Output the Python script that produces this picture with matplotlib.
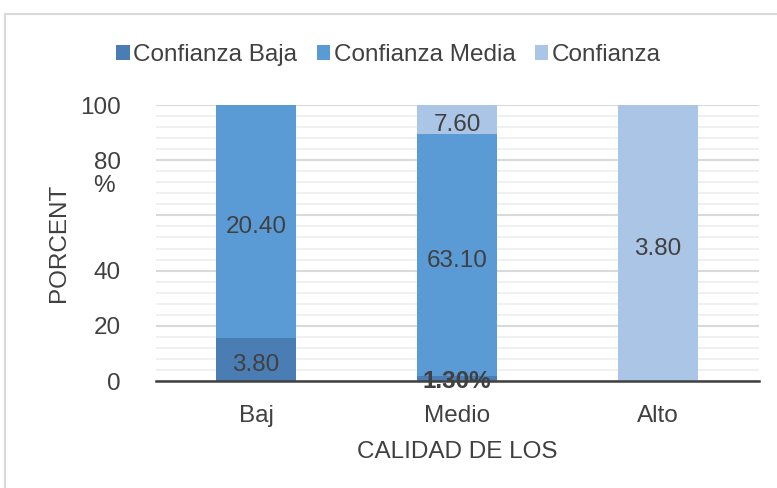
import matplotlib.pyplot as plt
from matplotlib.patches import Rectangle
from matplotlib.ticker import MultipleLocator

plt.rcParams['font.family'] = ['Liberation Sans', 'DejaVu Sans']

categories = ['Baj', 'Medio', 'Alto']
baja = [3.80, 1.30, 0.0]
media = [20.40, 63.10, 0.0]
confianza = [0.0, 7.60, 3.80]
baja_labels = ['3.80', '1.30%', '']
media_labels = ['20.40', '63.10', '']
confianza_labels = ['', '7.60', '3.80']

totals = [a + b + c for a, b, c in zip(baja, media, confianza)]
baja_pct = [v / t * 100 for v, t in zip(baja, totals)]
media_pct = [v / t * 100 for v, t in zip(media, totals)]
conf_pct = [v / t * 100 for v, t in zip(confianza, totals)]

text_color = '#404040'
fs = 17.5

fig = plt.figure(figsize=(7.77, 4.88), dpi=100)
fig.patches.append(Rectangle((5 / 777, -0.1), 1.2, 1.1 - 14 / 488,
                             transform=fig.transFigure, fill=False,
                             edgecolor='#d9d9d9', linewidth=1.5))
ax = fig.add_axes([155.5 / 777, 1 - 381 / 488, 603 / 777, 276 / 488])

x = range(len(categories))
w = 0.4
b1 = ax.bar(x, baja_pct, w, color='#4a7db3', label='Confianza Baja', zorder=3)
b2 = ax.bar(x, media_pct, w, bottom=baja_pct, color='#5b9bd5',
            label='Confianza Media', zorder=3)
bottom3 = [a + b for a, b in zip(baja_pct, media_pct)]
b3 = ax.bar(x, conf_pct, w, bottom=bottom3, color='#abc5e6',
            label='Confianza', zorder=3)

labels = []
labels += ax.bar_label(b1, labels=baja_labels, label_type='center', fontsize=fs,
                       color=text_color)
labels += ax.bar_label(b2, labels=media_labels, label_type='center', fontsize=fs,
                       color=text_color)
labels += ax.bar_label(b3, labels=confianza_labels, label_type='center', fontsize=fs,
                       color=text_color)
for t in labels:
    t.xyann = (0, -4)
    if t.get_text() == '1.30%':
        t.set_fontweight('bold')
        t.xyann = (0, -2)

ax.set_xlim(-0.5, 2.5)
ax.set_ylim(0, 100)
ax.yaxis.set_minor_locator(MultipleLocator(4))
ax.set_yticks([0, 20, 40, 60, 80, 100])
ax.set_yticklabels(['0', '20', '40', '', '80', '100'])
ax.annotate('%', xy=(0, 80), xycoords=ax.get_yaxis_transform(),
            xytext=(-52, -15), textcoords='offset pixels', ha='center', va='top',
            fontsize=fs, color=text_color)
ax.grid(axis='y', which='major', color='#d9d9d9', linewidth=1.5, zorder=0)
ax.grid(axis='y', which='minor', color='#eeeeee', linewidth=1.2, zorder=0)

ax.set_xticks(list(x))
ax.set_xticklabels(categories)
ax.tick_params(axis='both', which='both', length=0, labelsize=fs, labelcolor=text_color)
ax.tick_params(axis='y', pad=25)
ax.tick_params(axis='x', pad=17)

for s in ['top', 'right', 'left']:
    ax.spines[s].set_visible(False)
ax.spines['bottom'].set_color(text_color)
ax.spines['bottom'].set_linewidth(1.8)
ax.spines['bottom'].set_zorder(4)

ax.set_xlabel('CALIDAD DE LOS', fontsize=fs, color=text_color, labelpad=10)
ax.set_ylabel('PORCENT', fontsize=fs, color=text_color, labelpad=7)

fig.legend(handles=[b1, b2, b3], loc='center', bbox_to_anchor=(0.5, 1 - 55 / 488),
           ncol=3, frameon=False, fontsize=fs, handlelength=0.55, handleheight=0.55,
           handletextpad=0.15, columnspacing=0.8, labelcolor=text_color)

fig.savefig('out.png', dpi=100)
